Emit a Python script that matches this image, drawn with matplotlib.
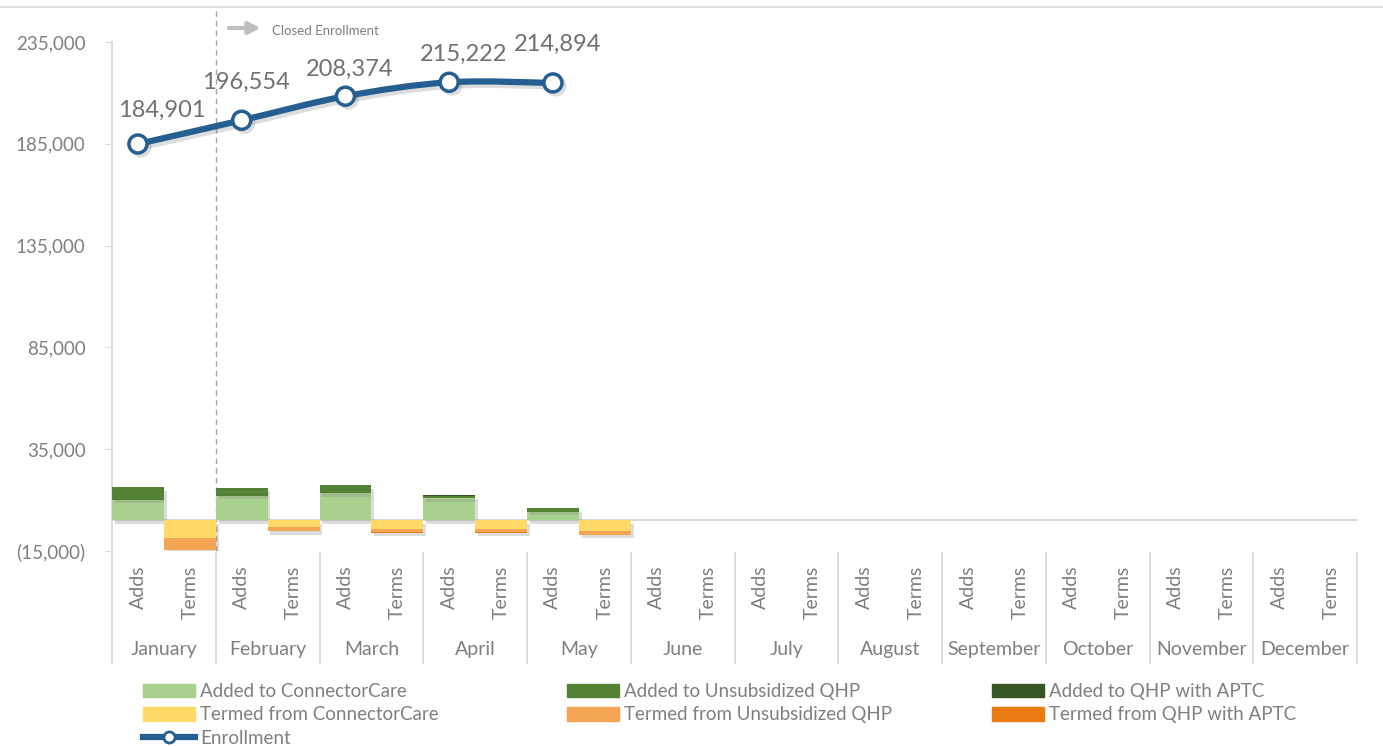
import numpy as np
import matplotlib
matplotlib.use("Agg")
import matplotlib.pyplot as plt
import matplotlib.patheffects as pe
from matplotlib.path import Path
from matplotlib.patches import PathPatch
from matplotlib.lines import Line2D
from matplotlib.patches import Patch

plt.rcParams['font.family'] = ['Lato', 'DejaVu Sans']

months = ["January", "February", "March", "April", "May", "June", "July",
          "August", "September", "October", "November", "December"]
sub_labels = ["Adds", "Terms"]

# values, only Jan-May reported
added_cc = [10100, 12100, 13400, 11000, 4400]
added_unsub = [6100, 3800, 3800, 1100, 1500]
added_aptc = [200, 200, 200, 200, 200]
termed_cc = [8400, 3000, 4300, 4300, 5100]
termed_unsub = [6000, 2100, 1600, 1600, 1800]
termed_aptc = [300, 200, 200, 200, 200]
enrollment = [184901, 196554, 208374, 215222, 214894]

ytick_vals = [-15000, 35000, 85000, 135000, 185000, 235000]

c_add_cc = "#A9D18E"
c_add_unsub = "#548235"
c_add_aptc = "#375623"
c_term_cc = "#FFD966"
c_term_unsub = "#F4A553"
c_term_aptc = "#E97A10"
c_line = "#255E91"
c_text = "#7F7F7F"
c_axis = "#D9D9D9"

fig = plt.figure(figsize=(13.83, 7.46), dpi=100)
ax = fig.add_axes([112 / 1383, 1 - 551 / 746, 1245 / 1383, 509 / 746])

n = len(enrollment)
x_adds = np.arange(n) * 2
x_terms = np.arange(n) * 2 + 1

bar_shadow = [pe.SimplePatchShadow(offset=(2, -2.5), shadow_rgbFace="#8c8c8c", alpha=0.3),
              pe.Normal()]

def stack(xs, layers, colors, sign):
    bottom = np.zeros(len(xs))
    for vals, col in zip(layers, colors):
        v = sign * np.array(vals, dtype=float)
        bars = ax.bar(xs, v, width=1.0, bottom=bottom, color=col, linewidth=0, zorder=3)
        for b in bars:
            b.set_path_effects(bar_shadow)
        bottom = bottom + v

stack(x_adds, [added_cc, added_unsub, added_aptc], [c_add_cc, c_add_unsub, c_add_aptc], 1)
stack(x_terms, [termed_cc, termed_unsub, termed_aptc], [c_term_cc, c_term_unsub, c_term_aptc], -1)

# smooth enrollment line (Catmull-Rom as cubic Bezier through the points)
px = x_adds.astype(float)
py = np.array(enrollment, dtype=float)
verts = [(px[0], py[0])]
codes = [Path.MOVETO]
for i in range(n - 1):
    p0 = (px[max(i - 1, 0)], py[max(i - 1, 0)])
    p1 = (px[i], py[i])
    p2 = (px[i + 1], py[i + 1])
    p3 = (px[min(i + 2, n - 1)], py[min(i + 2, n - 1)])
    c1 = (p1[0] + (p2[0] - p0[0]) / 6, p1[1] + (p2[1] - p0[1]) / 6)
    c2 = (p2[0] - (p3[0] - p1[0]) / 6, p2[1] - (p3[1] - p1[1]) / 6)
    verts += [c1, c2, p2]
    codes += [Path.CURVE4] * 3
curve = PathPatch(Path(verts, codes), facecolor="none", edgecolor=c_line, lw=4.5,
                  capstyle="round", zorder=5)
curve.set_path_effects([pe.SimpleLineShadow(offset=(2, -2.5), shadow_color="#666666", alpha=0.22),
                        pe.Normal()])
ax.add_patch(curve)
mk, = ax.plot(px, py, linestyle="none", marker="o", ms=13, mfc="white", mec=c_line,
              mew=2.5, zorder=6)
mk.set_path_effects([pe.SimpleLineShadow(offset=(2, -2), shadow_color="#666666", alpha=0.22),
                     pe.Normal()])

label_offsets = [(17, 24), (3, 27), (3, 19), (10, 20), (3, 28)]
for xi, yi, off in zip(px, py, label_offsets):
    ax.annotate(f"{int(yi):,}", (xi, yi), xytext=off, textcoords="offset points",
                ha="center", va="center", fontsize=17, color="#707070", zorder=7)

ax.set_xlim(-0.5, 2 * len(months) - 0.5)
ax.set_ylim(-15000, 235000)
ax.set_yticks(ytick_vals)
ax.set_yticklabels([f"({abs(v):,})" if v < 0 else f"{v:,}" for v in ytick_vals])
ax.tick_params(axis="y", colors=c_axis, labelcolor=c_text, labelsize=13.5, length=5, pad=14)
ax.set_xticks([])
for s in ["top", "right", "bottom", "left"]:
    ax.spines[s].set_visible(False)

# zero line
ax.axhline(0, color=c_axis, lw=1.5, zorder=2)

trans = ax.get_xaxis_transform()
# y axis line running down through the category labels
ax.add_line(Line2D([-0.5, -0.5], [1.0, -0.22], transform=trans, color=c_axis, lw=1.3,
                   clip_on=False))
for k in range(1, len(months) + 1):
    ax.add_line(Line2D([2 * k - 0.5] * 2, [-0.004, -0.22], transform=trans, color=c_axis,
                       lw=1.3, clip_on=False))

for i, m in enumerate(months):
    for j, s in enumerate(sub_labels):
        ax.text(2 * i + j, -0.029, s, transform=trans, rotation=90, ha="center", va="top",
                fontsize=14, color=c_text)
    ax.text(2 * i + 0.5, -0.193, m, transform=trans, ha="center", va="center",
            fontsize=14, color=c_text)

# closed enrollment marker
ax.add_line(Line2D([1.5, 1.5], [0.0, 1.067], transform=trans, color="#A6A6A6", lw=1,
                   linestyle=(0, (4, 3)), clip_on=False, zorder=1))
ax.annotate("", xy=(2.42, 1.0275), xytext=(1.7, 1.0275), xycoords=trans, textcoords=trans,
            arrowprops=dict(arrowstyle="-|>,head_length=0.7,head_width=0.35", color="#BFBFBF",
                            lw=3), annotation_clip=False)
ax.text(2.58, 1.022, "Closed Enrollment", transform=trans, fontsize=9.5, color=c_text,
        va="center", ha="left")

# top border line of the chart area
fig.add_artist(Line2D([0, 1], [1 - 7 / 746] * 2, transform=fig.transFigure, color=c_axis, lw=1.2))

columns = [
    [Patch(color=c_add_cc, label="Added to ConnectorCare"),
     Patch(color=c_term_cc, label="Termed from ConnectorCare"),
     Line2D([], [], color=c_line, lw=4.5, marker="o", ms=8, mfc="white", mec=c_line, mew=2,
            label="Enrollment")],
    [Patch(color=c_add_unsub, label="Added to Unsubsidized QHP"),
     Patch(color=c_term_unsub, label="Termed from Unsubsidized QHP")],
    [Patch(color=c_add_aptc, label="Added to QHP with APTC"),
     Patch(color=c_term_aptc, label="Termed from QHP with APTC")],
]
col_x = [143, 567, 992]
for hs, cx in zip(columns, col_x):
    leg = fig.legend(handles=hs, loc="upper left", bbox_to_anchor=(cx / 1383, 1 - 683 / 746),
                     frameon=False, fontsize=13.5, handlelength=2.77, handleheight=0.75,
                     handletextpad=0.27, labelspacing=0.34, borderpad=0, borderaxespad=0)
    for t in leg.get_texts():
        t.set_color(c_text)

fig.savefig("out.png", dpi=100)
